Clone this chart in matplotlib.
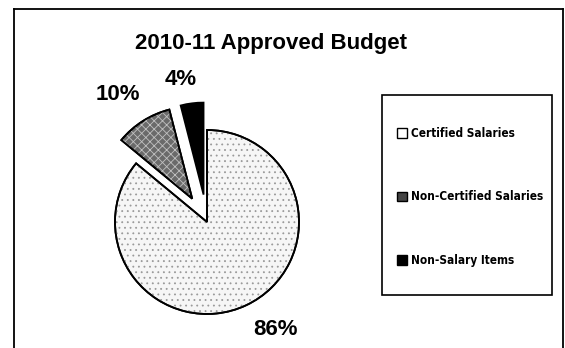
import matplotlib.pyplot as plt
from matplotlib.patches import Rectangle, Wedge
from matplotlib.lines import Line2D

# budget shares
categories = ["Certified Salaries", "Non-Certified Salaries", "Non-Salary Items"]
shares = [86, 10, 4]
offsets = [0.0, 0.3, 0.3]

faces = ["#f6f6f6", "#6a6a6a", "#000000"]
hatches = ["...", "xxxx", None]
hatch_colors = ["#9a9a9a", "#c0c0c0", None]

plt.rcParams['hatch.linewidth'] = 0.6

W, H = 565, 348
fig = plt.figure(figsize=(W / 100, H / 100), dpi=100)

# pie axes sized so that one data unit = 92 px, centre at (207, 222) px
r_px = 92.0
cx, cy = 207.0, 222.0
left_px, right_px, top_px, bot_px = 40.0, 374.0, 60.0, 348.0
ax = fig.add_axes([left_px / W, 1 - bot_px / H, (right_px - left_px) / W, (bot_px - top_px) / H])

wedges, _ = ax.pie(shares, explode=offsets, colors=faces, startangle=90,
                   counterclock=False, radius=1.0,
                   wedgeprops=dict(edgecolor='black', linewidth=1.3))
ax.set_xlim((left_px - cx) / r_px, (right_px - cx) / r_px)
ax.set_ylim((cy - bot_px) / r_px, (cy - top_px) / r_px)
ax.axis('off')

# grey texture laid over the filled wedges, black outline kept on top
for w, h, hc in zip(wedges, hatches, hatch_colors):
    if h:
        tex = Wedge(w.center, w.r, w.theta1, w.theta2, fill=False, hatch=h,
                    edgecolor=hc, linewidth=0, zorder=w.get_zorder() + 0.1)
        ax.add_patch(tex)
        outline = Wedge(w.center, w.r, w.theta1, w.theta2, fill=False,
                        edgecolor='black', linewidth=1.3, zorder=w.get_zorder() + 0.2)
        ax.add_patch(outline)

# percentage labels (x, y in data units)
label_pos = [(0.74, -1.17), (-0.97, 1.39), (-0.29, 1.55)]
for v, (x, y) in zip(shares, label_pos):
    ax.text(x, y, f"{v}%", ha='center', va='center', fontsize=16,
            fontweight='bold', family='Liberation Sans')

fig.text(135 / W, 1 - 44 / H, "2010-11 Approved Budget", ha='left', va='center',
         fontsize=16, fontweight='bold', family='Liberation Sans')

# legend swatches
handles = [Rectangle((0, 0), 1, 1, facecolor=f, edgecolor='black', linewidth=1.0)
           for f in ["white", "#444444", "black"]]

leg = fig.legend(handles, categories, loc='upper left',
                 bbox_to_anchor=(392 / W, 1 - 122 / H), frameon=False,
                 handlelength=0.9, handleheight=0.9, handletextpad=0.35,
                 labelspacing=4.3, borderaxespad=0,
                 prop=dict(family='DejaVu Sans', stretch='condensed',
                           weight='bold', size=8.5))
fig.add_artist(Rectangle((382 / W, 1 - 295 / H), 170 / W, 200 / H,
                         transform=fig.transFigure, fill=False,
                         edgecolor='black', linewidth=1.2))

# outer frame (runs off the bottom)
fig.add_artist(Line2D([14 / W, 14 / W], [-0.05, 1 - 9 / H], transform=fig.transFigure,
                      color='black', linewidth=1.3))
fig.add_artist(Line2D([14 / W, 563 / W], [1 - 9 / H, 1 - 9 / H], transform=fig.transFigure,
                      color='black', linewidth=1.3))
fig.add_artist(Line2D([563 / W, 563 / W], [-0.05, 1 - 9 / H], transform=fig.transFigure,
                      color='black', linewidth=1.3))

fig.savefig('out.png', dpi=100)
